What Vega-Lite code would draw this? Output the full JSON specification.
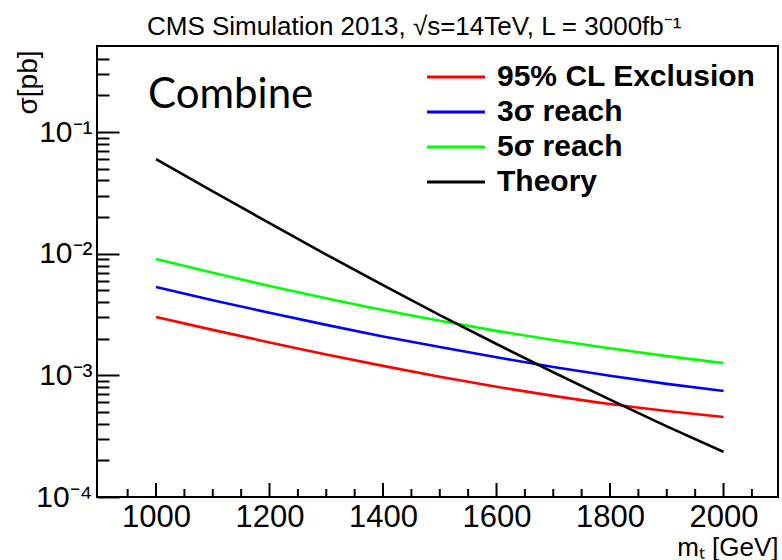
{
  "$schema": "https://vega.github.io/schema/vega-lite/v6.json",
  "width": 681,
  "height": 451,
  "autosize": {"type": "none"},
  "padding": {"left": 97, "top": 46, "right": 4, "bottom": 63},
  "background": "white",
  "title": {
    "text": "CMS Simulation 2013, √s=14TeV, L = 3000fb⁻¹",
    "anchor": "start",
    "frame": "group",
    "dx": 50,
    "offset": -15,
    "baseline": "alphabetic",
    "font": "Liberation Sans",
    "fontSize": 26,
    "fontWeight": "normal",
    "color": "#000000"
  },
  "datasets": {
    "curves": [
      {"mT": 1000, "series": "95% CL Exclusion", "xsec": 0.00302},
      {"mT": 1100, "series": "95% CL Exclusion", "xsec": 0.002366},
      {"mT": 1200, "series": "95% CL Exclusion", "xsec": 0.001866},
      {"mT": 1300, "series": "95% CL Exclusion", "xsec": 0.001486},
      {"mT": 1400, "series": "95% CL Exclusion", "xsec": 0.001197},
      {"mT": 1500, "series": "95% CL Exclusion", "xsec": 0.000975},
      {"mT": 1600, "series": "95% CL Exclusion", "xsec": 0.000805},
      {"mT": 1700, "series": "95% CL Exclusion", "xsec": 0.000678},
      {"mT": 1800, "series": "95% CL Exclusion", "xsec": 0.000581},
      {"mT": 1900, "series": "95% CL Exclusion", "xsec": 0.000509},
      {"mT": 2000, "series": "95% CL Exclusion", "xsec": 0.000455},
      {"mT": 1000, "series": "3σ reach", "xsec": 0.00532},
      {"mT": 1100, "series": "3σ reach", "xsec": 0.00415},
      {"mT": 1200, "series": "3σ reach", "xsec": 0.00327},
      {"mT": 1300, "series": "3σ reach", "xsec": 0.00260},
      {"mT": 1400, "series": "3σ reach", "xsec": 0.00209},
      {"mT": 1500, "series": "3σ reach", "xsec": 0.00171},
      {"mT": 1600, "series": "3σ reach", "xsec": 0.00141},
      {"mT": 1700, "series": "3σ reach", "xsec": 0.00117},
      {"mT": 1800, "series": "3σ reach", "xsec": 0.000991},
      {"mT": 1900, "series": "3σ reach", "xsec": 0.000851},
      {"mT": 2000, "series": "3σ reach", "xsec": 0.000745},
      {"mT": 1000, "series": "5σ reach", "xsec": 0.00904},
      {"mT": 1100, "series": "5σ reach", "xsec": 0.00697},
      {"mT": 1200, "series": "5σ reach", "xsec": 0.00543},
      {"mT": 1300, "series": "5σ reach", "xsec": 0.00430},
      {"mT": 1400, "series": "5σ reach", "xsec": 0.00344},
      {"mT": 1500, "series": "5σ reach", "xsec": 0.00281},
      {"mT": 1600, "series": "5σ reach", "xsec": 0.00232},
      {"mT": 1700, "series": "5σ reach", "xsec": 0.00195},
      {"mT": 1800, "series": "5σ reach", "xsec": 0.00167},
      {"mT": 1900, "series": "5σ reach", "xsec": 0.00144},
      {"mT": 2000, "series": "5σ reach", "xsec": 0.00126},
      {"mT": 1000, "series": "Theory", "xsec": 0.0600},
      {"mT": 1100, "series": "Theory", "xsec": 0.0326},
      {"mT": 1200, "series": "Theory", "xsec": 0.01782},
      {"mT": 1300, "series": "Theory", "xsec": 0.00984},
      {"mT": 1400, "series": "Theory", "xsec": 0.00551},
      {"mT": 1500, "series": "Theory", "xsec": 0.00313},
      {"mT": 1600, "series": "Theory", "xsec": 0.00181},
      {"mT": 1700, "series": "Theory", "xsec": 0.00106},
      {"mT": 1800, "series": "Theory", "xsec": 0.000631},
      {"mT": 1900, "series": "Theory", "xsec": 0.000381},
      {"mT": 2000, "series": "Theory", "xsec": 0.000235}
    ],
    "majorTicks": [
      {"mT": 1000}, {"mT": 1200}, {"mT": 1400}, {"mT": 1600}, {"mT": 1800}, {"mT": 2000}
    ],
    "minorTicks": [
      {"mT": 950}, {"mT": 1050}, {"mT": 1100}, {"mT": 1150},
      {"mT": 1250}, {"mT": 1300}, {"mT": 1350},
      {"mT": 1450}, {"mT": 1500}, {"mT": 1550},
      {"mT": 1650}, {"mT": 1700}, {"mT": 1750},
      {"mT": 1850}, {"mT": 1900}, {"mT": 1950}, {"mT": 2050}
    ],
    "tag": [
      {"mT": 986, "xsec": 0.157, "label": "Combine"}
    ]
  },
  "layer": [
    {
      "data": {"name": "curves"},
      "mark": {"type": "line", "interpolate": "monotone", "strokeWidth": 2.6, "clip": true},
      "encoding": {
        "x": {
          "field": "mT",
          "type": "quantitative",
          "scale": {"domain": [896, 2096], "nice": false, "zero": false},
          "axis": {
            "orient": "bottom",
            "values": [1000, 1200, 1400, 1600, 1800, 2000],
            "ticks": false,
            "labelPadding": 5,
            "labelFontSize": 31,
            "format": "d",
            "title": "mₜ [GeV]",
            "titleAnchor": "end",
            "titleAlign": "right",
            "titleBaseline": "alphabetic",
            "titleX": 681,
            "titleY": 58,
            "titleFontSize": 26
          }
        },
        "y": {
          "field": "xsec",
          "type": "quantitative",
          "scale": {"type": "log", "domain": [0.0001, 0.51], "nice": false},
          "axis": {
            "orient": "left",
            "values": [0.0001, 0.001, 0.01, 0.1],
            "tickSize": -22,
            "labelPadding": 27,
            "labelFontSize": 30,
            "labelExpr": "datum.value > 0.05 ? '10⁻¹' : datum.value > 0.005 ? '10⁻²' : datum.value > 0.0005 ? '10⁻³' : '10⁻⁴'",
            "title": "σ[pb]",
            "titleAnchor": "end",
            "titleAngle": -90,
            "titleAlign": "right",
            "titleBaseline": "bottom",
            "titleX": -55,
            "titleY": 4,
            "titleFontSize": 28
          }
        },
        "color": {
          "field": "series",
          "type": "nominal",
          "scale": {
            "domain": ["95% CL Exclusion", "3σ reach", "5σ reach", "Theory"],
            "range": ["#ff0000", "#0000ff", "#00ff00", "#000000"]
          },
          "legend": {
            "orient": "none",
            "legendX": 344,
            "legendY": 16,
            "title": null,
            "padding": 0,
            "symbolType": "M-2.9,0H2.9",
            "symbolSize": 400,
            "symbolStrokeWidth": 3,
            "labelFont": "Liberation Sans",
            "labelFontWeight": "bold",
            "labelFontSize": 30,
            "labelColor": "#000000",
            "labelOffset": 26,
            "rowPadding": 5,
            "labelLimit": 400
          }
        }
      }
    },
    {
      "data": {"name": "curves"},
      "mark": {"type": "point", "opacity": 0},
      "encoding": {
        "x": {"field": "mT", "type": "quantitative", "axis": null},
        "y": {
          "field": "xsec",
          "type": "quantitative",
          "axis": {
            "orient": "left",
            "values": [0.0002, 0.0003, 0.0004, 0.0005, 0.0006, 0.0007, 0.0008, 0.0009, 0.002, 0.003, 0.004, 0.005, 0.006, 0.007, 0.008, 0.009, 0.02, 0.03, 0.04, 0.05, 0.06, 0.07, 0.08, 0.09, 0.2, 0.3, 0.4],
            "tickSize": -12,
            "labels": false,
            "domain": false,
            "title": null
          }
        }
      }
    },
    {
      "data": {"name": "majorTicks"},
      "mark": {"type": "tick", "orient": "vertical", "thickness": 2, "size": 14, "yOffset": -7, "color": "#000000", "opacity": 1},
      "encoding": {
        "x": {"field": "mT", "type": "quantitative", "axis": null},
        "y": {"datum": 0.0001, "type": "quantitative", "axis": null}
      }
    },
    {
      "data": {"name": "minorTicks"},
      "mark": {"type": "tick", "orient": "vertical", "thickness": 2, "size": 8, "yOffset": -4, "color": "#000000", "opacity": 1},
      "encoding": {
        "x": {"field": "mT", "type": "quantitative", "axis": null},
        "y": {"datum": 0.0001, "type": "quantitative", "axis": null}
      }
    },
    {
      "data": {"name": "tag"},
      "mark": {"type": "text", "align": "left", "baseline": "alphabetic", "font": "Lato", "fontSize": 42, "color": "#000000"},
      "encoding": {
        "x": {"field": "mT", "type": "quantitative", "axis": null},
        "y": {"field": "xsec", "type": "quantitative", "axis": null},
        "text": {"field": "label"}
      }
    }
  ],
  "resolve": {"axis": {"x": "independent", "y": "independent"}},
  "config": {
    "view": {"stroke": "#000000", "strokeWidth": 2},
    "font": "Liberation Sans",
    "axis": {
      "grid": false,
      "domain": false,
      "tickColor": "#000000",
      "tickWidth": 2,
      "labelColor": "#000000",
      "labelFont": "Liberation Sans",
      "titleColor": "#000000",
      "titleFont": "Liberation Sans",
      "titleFontWeight": "normal"
    }
  }
}
